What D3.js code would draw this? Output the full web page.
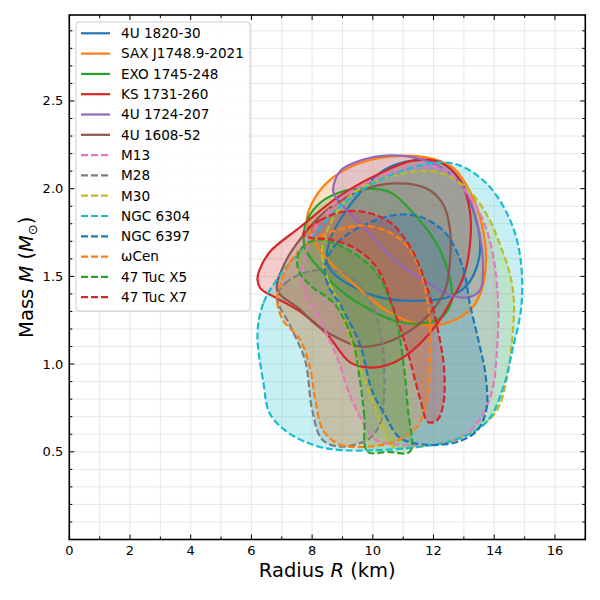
<!DOCTYPE html>
<html>
<head>
<meta charset="utf-8">
<script src="https://cdn.jsdelivr.net/npm/d3@7"></script>
<style>
  body { margin: 0; background: #fff; }
  text { font-family: "DejaVu Sans", sans-serif; }
</style>
</head>
<body>
<div id="chart"></div>
<script>
// sources, in legend order
const names = ["4U 1820-30", "SAX J1748.9-2021", "EXO 1745-248", "KS 1731-260",
  "4U 1724-207", "4U 1608-52", "M13", "M28", "M30", "NGC 6304", "NGC 6397",
  "ωCen", "47 Tuc X5", "47 Tuc X7"];

// contour outlines, [radius km, mass Msun]
const u1820 = [[8.49,1.58],[8.59,1.71],[9.02,1.85],[9.64,1.99],[10.4,2.11],[11.32,2.16],[12.21,2.15],
  [12.87,2.05],[13.3,1.88],[13.53,1.71],[13.47,1.58],[13.1,1.45],[12.44,1.38],[11.32,1.36],
  [10.24,1.38],[9.25,1.45],[8.69,1.52]];
const sax1748 = [[7.83,1.83],[8.1,1.95],[8.59,2.05],[9.41,2.135],[10.4,2.18],[11.72,2.18],[12.64,2.12],
  [13.27,1.96],[13.6,1.79],[13.73,1.6],[13.6,1.43],[13.27,1.32],[12.54,1.24],[11.79,1.22],
  [11.07,1.25],[10.4,1.31],[9.41,1.45],[8.59,1.58],[8.0,1.72]];
const exo1745 = [[7.77,1.79],[8.2,1.91],[8.92,1.98],[9.74,2.0],[10.57,1.98],[11.39,1.85],[12.12,1.68],
  [12.54,1.49],[12.58,1.35],[12.21,1.26],[11.46,1.23],[10.67,1.25],[9.91,1.31],[9.08,1.4],
  [8.26,1.54],[7.77,1.66]];
const ks1731 = [[6.25,1.53],[6.61,1.64],[7.6,1.78],[8.92,1.96],[10.33,2.095],[11.32,2.16],[12.21,2.15],
  [12.87,2.05],[13.2,1.87],[13.2,1.68],[12.97,1.49],[12.54,1.35],[12.12,1.23],[11.32,1.08],
  [10.57,1.0],[9.91,0.98],[9.25,1.01],[8.49,1.17],[7.6,1.3],[6.78,1.38],[6.3,1.43],[6.2,1.48]];
const u1724 = [[8.69,1.99],[8.92,2.1],[9.58,2.16],[10.57,2.19],[11.56,2.17],[12.44,2.1],[13.14,1.96],
  [13.47,1.78],[13.63,1.57],[13.53,1.42],[13.1,1.38],[12.44,1.4],[11.56,1.49],[10.8,1.58],
  [9.91,1.74],[9.25,1.86],[8.82,1.94]];
const u1608 = [[6.85,1.42],[7.11,1.58],[7.6,1.71],[8.36,1.86],[9.48,1.98],[10.67,2.03],[11.79,2.0],
  [12.32,1.91],[12.54,1.77],[12.54,1.58],[12.38,1.42],[11.98,1.31],[11.39,1.21],[10.4,1.12],
  [9.58,1.1],[8.82,1.15],[8.16,1.22],[7.54,1.32]];
const m13 = [[7.71,1.44],[7.93,1.71],[8.92,1.94],[10.73,2.095],[12.21,2.12],[13.04,1.99],[13.63,1.82],
  [13.96,1.62],[14.13,1.34],[14.09,1.08],[13.96,0.87],[13.7,0.74],[13.21,0.62],[12.38,0.55],
  [10.89,0.54],[10.07,0.57],[9.64,0.68],[9.25,0.82],[8.82,1.04],[8.26,1.25]];
const m28 = [[6.84,1.38],[7.11,1.46],[7.83,1.525],[8.69,1.535],[9.41,1.48],[9.97,1.34],[10.3,1.14],
  [10.37,0.85],[10.24,0.66],[9.84,0.57],[8.92,0.53],[8.33,0.57],[8.0,0.74],[7.77,1.02],[7.27,1.22]];
const m30 = [[8.33,1.65],[8.75,1.85],[9.41,1.98],[10.57,2.07],[12.11,2.095],[13.1,2.0],[13.76,1.85],
  [14.19,1.68],[14.52,1.51],[14.65,1.35],[14.59,1.14],[14.43,0.93],[14.1,0.74],[13.53,0.64],
  [12.71,0.57],[11.56,0.53],[10.67,0.53],[10.33,0.64],[9.58,0.98],[8.82,1.37],[8.52,1.48]];
const ngc6304 = [[6.2,1.17],[6.4,1.35],[7.0,1.52],[7.8,1.68],[8.8,1.88],[9.9,2.02],[11.3,2.12],
  [12.2,2.15],[12.9,2.13],[13.8,2.02],[14.5,1.83],[14.85,1.62],[14.9,1.34],[14.6,1.08],
  [14.3,0.87],[13.8,0.68],[12.9,0.58],[11.6,0.53],[10.2,0.51],[9.0,0.51],[8.2,0.53],
  [7.2,0.61],[6.6,0.72],[6.4,0.89]];
const ngc6397 = [[8.43,1.565],[8.82,1.69],[9.68,1.79],[10.73,1.85],[11.56,1.84],[12.38,1.75],
  [12.97,1.55],[13.2,1.34],[13.5,1.12],[13.72,0.93],[13.74,0.74],[13.43,0.62],[12.77,0.556],
  [11.79,0.54],[10.89,0.58],[10.4,0.71],[9.97,0.85],[9.58,1.11],[8.92,1.34],[8.52,1.45]];
const omegaCen = [[6.95,1.45],[7.27,1.58],[7.93,1.7],[8.75,1.76],[9.64,1.79],[10.57,1.75],[11.23,1.65],
  [11.65,1.48],[11.88,1.25],[11.88,1.02],[11.79,0.8],[11.49,0.65],[10.89,0.57],[9.91,0.53],
  [8.92,0.54],[8.37,0.62],[8.1,0.8],[7.93,0.98],[7.6,1.14],[7.04,1.25],[6.84,1.37]];
const tucX5 = [[9.82,0.5],[9.72,0.7],[9.58,0.9],[9.32,1.14],[8.75,1.34],[7.93,1.45],[7.54,1.54],
  [7.6,1.65],[8.2,1.71],[9.09,1.66],[10.07,1.53],[10.73,1.28],[11.0,1.02],[11.15,0.75],
  [11.22,0.5],[10.5,0.5]];
const tucX7 = [[7.7,1.74],[8.26,1.82],[9.08,1.87],[9.91,1.86],[10.63,1.8],[11.29,1.65],[11.82,1.42],
  [12.15,1.19],[12.35,0.97],[12.32,0.77],[12.12,0.68],[11.82,0.67],[11.56,0.8],[11.13,1.08],
  [10.63,1.34],[10.13,1.55],[9.41,1.66],[8.59,1.71],[7.93,1.72]];

const contours = [u1820, sax1748, exo1745, ks1731, u1724, u1608, m13, m28, m30,
  ngc6304, ngc6397, omegaCen, tucX5, tucX7];

// axis ticks
const xTicks = [0, 2, 4, 6, 8, 10, 12, 14, 16];
const yTicks = [0.5, 1.0, 1.5, 2.0, 2.5];

// styles
const colors = ["#1f77b4", "#ff7f0e", "#2ca02c", "#d62728", "#9467bd", "#8c564b", "#e377c2",
  "#7f7f7f", "#bcbd22", "#17becf", "#1f77b4", "#ff7f0e", "#2ca02c", "#d62728"];
const isDashed = names.map((d, i) => i >= 6);

const width = 600, height = 600;
const m = {left: 69.3, right: 585.3, top: 15, bottom: 539.5};

const svg = d3.select("#chart").append("svg")
  .attr("width", width)
  .attr("height", height);

const x = d3.scaleLinear().domain([0, 17]).range([m.left, m.right]);
const y = d3.scaleLinear().domain([0, 2.99]).range([m.bottom, m.top]);

// grid on minor ticks
const xMinor = d3.range(1, 17, 1);
const yMinor = d3.range(1, 30).map(d => d / 10);
svg.append("g").selectAll("line").data(xMinor).join("line")
  .attr("x1", d => x(d)).attr("x2", d => x(d))
  .attr("y1", m.top).attr("y2", m.bottom)
  .attr("stroke", "#e2e2e2").attr("stroke-width", 0.8);
svg.append("g").selectAll("line").data(yMinor).join("line")
  .attr("y1", d => y(d)).attr("y2", d => y(d))
  .attr("x1", m.left).attr("x2", m.right)
  .attr("stroke", "#e2e2e2").attr("stroke-width", 0.8);

// contours
const line = d3.line()
  .x(d => x(d[0]))
  .y(d => y(d[1]))
  .curve(d3.curveCatmullRomClosed.alpha(0.5));

const plot = svg.append("g");
contours.forEach((c, i) => {
  plot.append("path")
    .attr("d", line(c))
    .attr("fill", colors[i])
    .attr("fill-opacity", 0.24)
    .attr("stroke", "none");
});
contours.forEach((c, i) => {
  plot.append("path")
    .attr("d", line(c))
    .attr("fill", "none")
    .attr("stroke", colors[i])
    .attr("stroke-width", 2.2)
    .attr("stroke-dasharray", isDashed[i] ? "7,3" : null);
});

// axes frame
svg.append("rect")
  .attr("x", m.left).attr("y", m.top)
  .attr("width", m.right - m.left).attr("height", m.bottom - m.top)
  .attr("fill", "none").attr("stroke", "#000").attr("stroke-width", 1.6);

// ticks pointing in, on all four sides
const tickG = svg.append("g").attr("stroke", "#000").attr("stroke-width", 1);
d3.range(0, 18, 1).forEach(v => {
  const len = v % 2 === 0 ? 5 : 3;
  tickG.append("line").attr("x1", x(v)).attr("x2", x(v)).attr("y1", m.bottom).attr("y2", m.bottom - len);
  tickG.append("line").attr("x1", x(v)).attr("x2", x(v)).attr("y1", m.top).attr("y2", m.top + len);
});
d3.range(0, 30, 1).forEach(k => {
  const v = k / 10;
  const len = k % 5 === 0 ? 5 : 3;
  tickG.append("line").attr("y1", y(v)).attr("y2", y(v)).attr("x1", m.left).attr("x2", m.left + len);
  tickG.append("line").attr("y1", y(v)).attr("y2", y(v)).attr("x1", m.right).attr("x2", m.right - len);
});

// tick labels
svg.append("g").selectAll("text").data(xTicks).join("text")
  .attr("x", d => x(d)).attr("y", 555)
  .attr("text-anchor", "middle")
  .attr("font-size", 13)
  .text(d => d);
svg.append("g").selectAll("text").data(yTicks).join("text")
  .attr("x", m.left - 6).attr("y", d => y(d) + 4.5)
  .attr("text-anchor", "end")
  .attr("font-size", 13)
  .text(d => d.toFixed(1));

// axis labels
const xl = svg.append("text")
  .attr("x", (m.left + m.right) / 2).attr("y", 577)
  .attr("text-anchor", "middle")
  .attr("font-size", 19.5);
xl.append("tspan").text("Radius ");
xl.append("tspan").attr("font-style", "italic").text("R");
xl.append("tspan").text(" (km)");

const yl = svg.append("text")
  .attr("transform", `translate(33,${(m.top + m.bottom) / 2}) rotate(-90)`)
  .attr("text-anchor", "middle")
  .attr("font-size", 19.5);
yl.append("tspan").text("Mass ");
yl.append("tspan").attr("font-style", "italic").text("M");
yl.append("tspan").text(" (");
yl.append("tspan").attr("font-style", "italic").text("M");
yl.append("tspan").attr("font-size", 13).attr("dy", 4).text("⊙");
yl.append("tspan").attr("dy", -4).text(")");

// legend
const legend = svg.append("g");
legend.append("rect")
  .attr("x", 76).attr("y", 22)
  .attr("width", 174).attr("height", 289)
  .attr("rx", 3)
  .attr("fill", "#fff").attr("fill-opacity", 0.8)
  .attr("stroke", "#cccccc").attr("stroke-width", 1);
names.forEach((n, i) => {
  const yy = 33.3 + i * 20.3;
  legend.append("line")
    .attr("x1", 81).attr("x2", 110)
    .attr("y1", yy).attr("y2", yy)
    .attr("stroke", colors[i]).attr("stroke-width", 2.2)
    .attr("stroke-dasharray", isDashed[i] ? "7,3" : null);
  legend.append("text")
    .attr("x", 121).attr("y", yy + 4.8)
    .attr("font-size", 13.6)
    .text(n);
});
</script>
</body>
</html>
